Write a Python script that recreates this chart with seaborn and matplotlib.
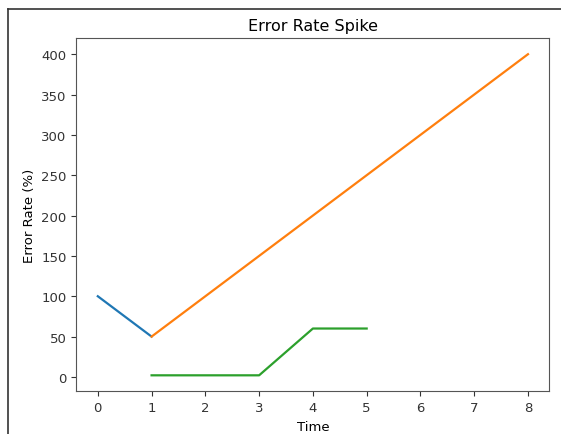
import matplotlib
matplotlib.use("Agg")
import matplotlib.pyplot as plt
from matplotlib.lines import Line2D
import seaborn as sns
import pandas as pd

# Data
blue_time = [0, 1]
blue_rate = [100, 50]
orange_time = [1, 8]
orange_rate = [50, 400]
green_time = [1, 2, 3, 4, 5]
green_rate = [2, 2, 2, 60, 60]

df = pd.concat([
    pd.DataFrame({"Time": blue_time, "Error Rate (%)": blue_rate, "series": "a"}),
    pd.DataFrame({"Time": orange_time, "Error Rate (%)": orange_rate, "series": "b"}),
    pd.DataFrame({"Time": green_time, "Error Rate (%)": green_rate, "series": "c"}),
], ignore_index=True)

plt.rcParams["font.family"] = ["DejaVu Sans"]
fig = plt.figure(figsize=(5.61, 4.35), dpi=100)
ax = fig.add_axes([0.136, 0.098, 0.8435, 0.812])
sns.lineplot(data=df, x="Time", y="Error Rate (%)", hue="series",
             palette=["#1f77b4", "#ff7f0e", "#2ca02c"], linewidth=1.6,
             legend=False, ax=ax, estimator=None, sort=False)
ax.set_title("Error Rate Spike", fontsize=11.5)
ax.set_xlabel("Time", fontsize=9.5)
ax.set_ylabel("Error Rate (%)", fontsize=9.5)
ax.set_xticks(range(0, 9))
ax.set_yticks(range(0, 401, 50))
ax.tick_params(labelsize=9.5, colors="#333333")
for s in ax.spines.values():
    s.set_color("#555555")

# screenshot border
fig.add_artist(Line2D([8/561, 1], [1 - 10/435, 1 - 10/435], color="#333333", lw=1.2, transform=fig.transFigure))
fig.add_artist(Line2D([8/561, 8/561], [0, 1 - 10/435], color="#333333", lw=1.2, transform=fig.transFigure))

fig.savefig("out.png", dpi=100)
